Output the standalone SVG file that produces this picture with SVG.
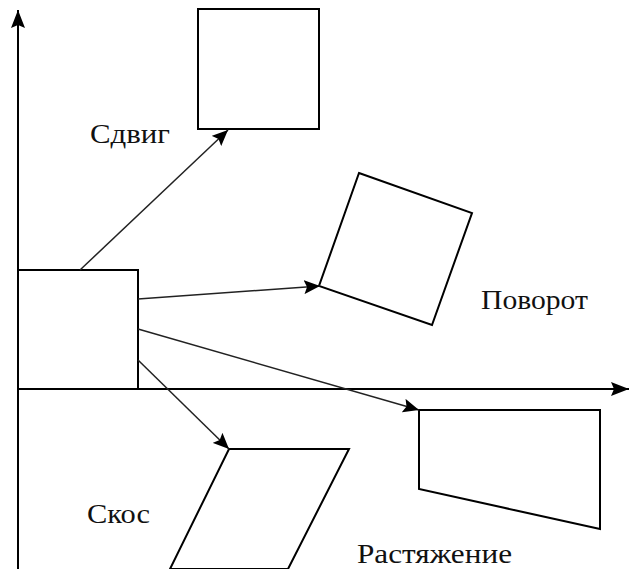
<svg xmlns="http://www.w3.org/2000/svg" width="630" height="569" viewBox="0 0 630 569">
<style>
.s{fill:none;stroke:#000;stroke-width:2;stroke-linejoin:miter}
.c{fill:none;stroke:#222;stroke-width:1.5}
.t{font-family:"Liberation Serif","Times New Roman",serif;font-size:28px;fill:#111}
</style>
<defs>
<marker id="ah" viewBox="0 0 16 14" refX="16" refY="7" markerWidth="16" markerHeight="14" markerUnits="userSpaceOnUse" orient="auto">
<path d="M0,0 L16,7 L0,14 L3,7 Z" fill="#000"/>
</marker>
<marker id="ax" viewBox="0 0 18 14" refX="18" refY="7" markerWidth="18" markerHeight="14" markerUnits="userSpaceOnUse" orient="auto">
<path d="M0,0 L18,7 L0,14 L3,7 Z" fill="#000"/>
</marker>
</defs>
<rect width="630" height="569" fill="#fff"/>
<g id="axes">
<line class="s" x1="18" y1="569" x2="18" y2="10" marker-end="url(#ax)"/>
<line class="s" x1="18" y1="389" x2="629" y2="389" marker-end="url(#ax)"/>
</g>
<g id="original"><rect class="s" x="18" y="270" width="120" height="119"/></g>
<g id="shift"><rect class="s" x="198" y="9" width="121" height="120"/></g>
<g id="rotate"><polygon class="s" points="359,173 472,213 432,325 319,286"/></g>
<g id="stretch"><polygon class="s" points="419,410 600,410 600,529 419,489"/></g>
<g id="skew"><polygon class="s" points="229,449 349,449 288,569 170,569"/></g>
<g id="connectors">
<line class="c" x1="80" y1="270" x2="228" y2="130" marker-end="url(#ah)"/>
<line class="c" x1="138" y1="299" x2="320" y2="286" marker-end="url(#ah)"/>
<line class="c" x1="138" y1="329" x2="419" y2="410" marker-end="url(#ah)"/>
<line class="c" x1="138" y1="360" x2="229" y2="449" marker-end="url(#ah)"/>
</g>
<g id="labels">
<text class="t" x="90" y="143" textLength="80" lengthAdjust="spacingAndGlyphs">Сдвиг</text>
<text class="t" x="481" y="309" textLength="107" lengthAdjust="spacingAndGlyphs">Поворот</text>
<text class="t" x="87" y="523" textLength="63" lengthAdjust="spacingAndGlyphs">Скос</text>
<text class="t" x="357" y="563" textLength="155" lengthAdjust="spacingAndGlyphs">Растяжение</text>
</g>
</svg>
